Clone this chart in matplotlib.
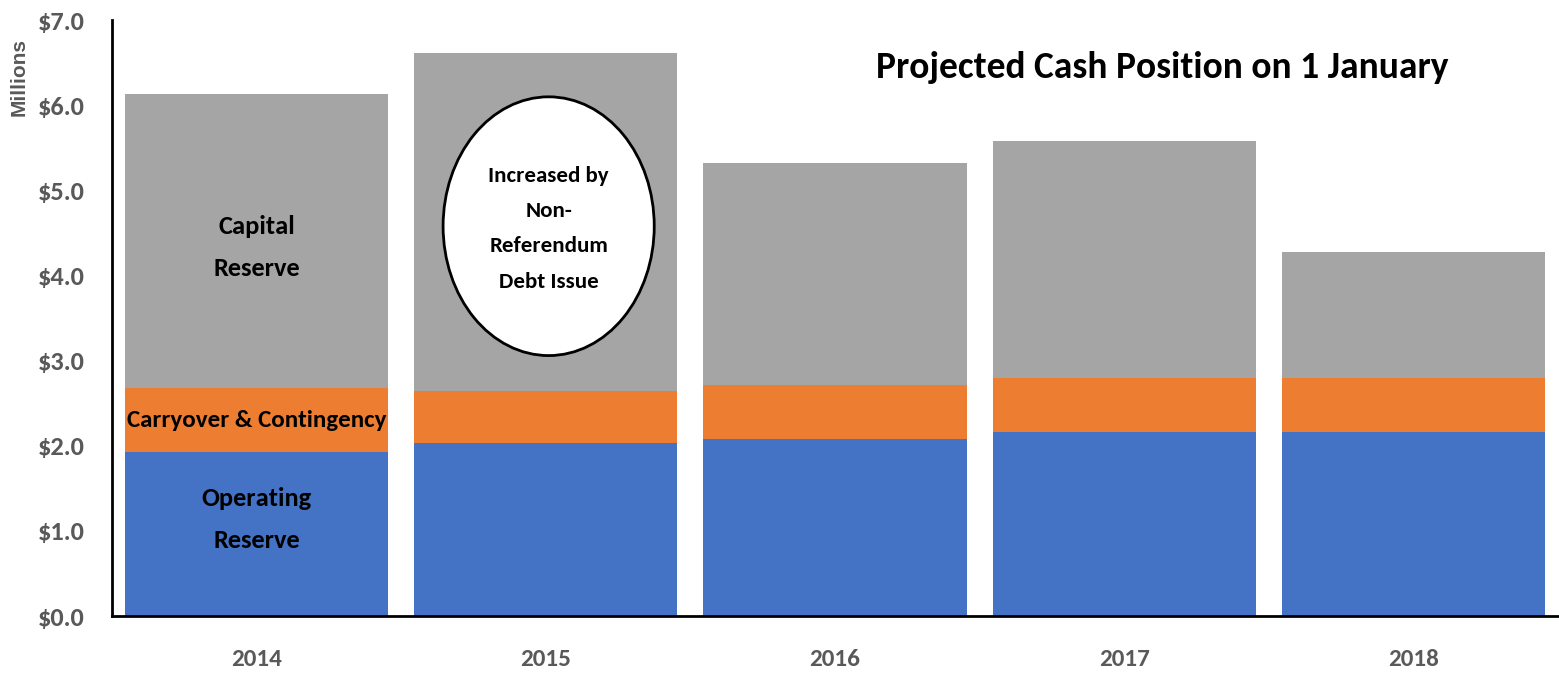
import matplotlib.pyplot as plt
from matplotlib.patches import Ellipse

plt.rcParams['font.family'] = ['Carlito', 'Liberation Sans', 'DejaVu Sans']

# data (millions)
years = ['2014', '2015', '2016', '2017', '2018']
operating = [1.93, 2.03, 2.08, 2.16, 2.16]
carryover = [0.75, 0.61, 0.64, 0.64, 0.64]
capital = [3.45, 3.97, 2.60, 2.78, 1.48]
yticks = [0, 1, 2, 3, 4, 5, 6, 7]

blue = '#4472C4'
orange = '#ED7D31'
gray = '#A5A5A5'
tick_gray = '#595959'

fig = plt.figure(figsize=(15.59, 6.74), dpi=100)
ax = fig.add_axes([0.0718, 0.086, 0.9276, 0.884])

x = range(len(years))
w = 0.91
ax.bar(x, operating, w, color=blue)
bottom2 = [a for a in operating]
ax.bar(x, carryover, w, bottom=bottom2, color=orange)
bottom3 = [a + b for a, b in zip(operating, carryover)]
ax.bar(x, capital, w, bottom=bottom3, color=gray)

ax.set_xlim(-0.5, len(years) - 0.5)
ax.set_ylim(0, 7)
ax.set_yticks(yticks)
ax.set_yticklabels([f'${v:.1f}' for v in yticks], fontsize=19,
                   fontweight='bold', color=tick_gray)
ax.set_xticks(list(x))
ax.set_xticklabels(years, fontsize=18, fontweight='bold', color=tick_gray)
ax.tick_params(axis='both', length=0)
ax.tick_params(axis='y', pad=20)
ax.tick_params(axis='x', pad=24)
for s in ['top', 'right']:
    ax.spines[s].set_visible(False)
for s in ['left', 'bottom']:
    ax.spines[s].set_linewidth(2)
    ax.spines[s].set_color('black')

fig.text(0.012, 0.886, 'Millions', rotation=90, ha='center', va='center',
         fontsize=15, fontweight='bold', color=tick_gray,
         family=['Liberation Sans', 'DejaVu Sans'])

# segment labels on the first bar
ax.text(0, 4.33, 'Capital\nReserve', ha='center', va='center',
        fontsize=19, fontweight='bold', linespacing=2.0)
ax.text(0, 2.30, 'Carryover & Contingency', ha='center', va='center',
        fontsize=18, fontweight='bold')
ax.text(0, 1.13, 'Operating\nReserve', ha='center', va='center',
        fontsize=19, fontweight='bold', linespacing=2.0)

# callout on 2015
ax.add_patch(Ellipse((1.01, 4.58), 0.73, 3.04, facecolor='white',
                     edgecolor='black', linewidth=2, zorder=3))
ax.text(1.01, 4.55, 'Increased by\nNon-\nReferendum\nDebt Issue', ha='center',
        va='center', fontsize=16.5, fontweight='bold', linespacing=1.95,
        zorder=4)

ax.text(3.13, 6.45, 'Projected Cash Position on 1 January', ha='center',
        va='center', fontsize=27, fontweight='bold')

fig.savefig('out.png', dpi=100)
